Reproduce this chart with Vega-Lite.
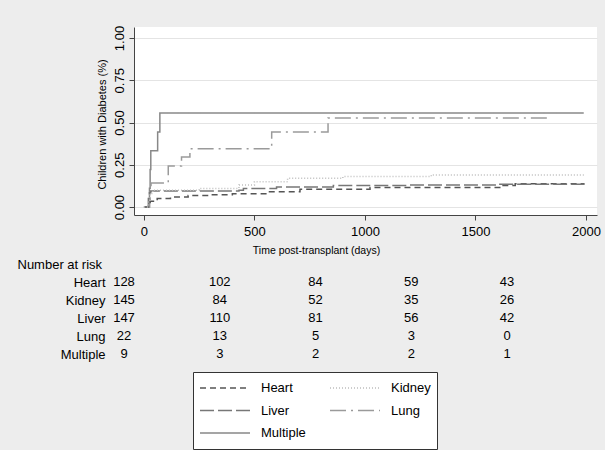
{
  "$schema": "https://vega.github.io/schema/vega-lite/v6.json",
  "background": "#ededed",
  "padding": {"left": 17, "top": 25, "right": 5, "bottom": 3},
  "bounds": "flush",
  "spacing": 58,
  "datasets": {
    "curves": [
      {"group": "Multiple", "t": 0, "p": 0},
      {"group": "Multiple", "t": 25, "p": 0.111},
      {"group": "Multiple", "t": 28, "p": 0.222},
      {"group": "Multiple", "t": 31, "p": 0.333},
      {"group": "Multiple", "t": 62, "p": 0.444},
      {"group": "Multiple", "t": 72, "p": 0.556},
      {"group": "Multiple", "t": 1990, "p": 0.556},
      {"group": "Lung", "t": 0, "p": 0},
      {"group": "Lung", "t": 25, "p": 0.045},
      {"group": "Lung", "t": 28, "p": 0.091},
      {"group": "Lung", "t": 32, "p": 0.142},
      {"group": "Lung", "t": 110, "p": 0.243},
      {"group": "Lung", "t": 170, "p": 0.296},
      {"group": "Lung", "t": 208, "p": 0.345},
      {"group": "Lung", "t": 578, "p": 0.444},
      {"group": "Lung", "t": 833, "p": 0.527},
      {"group": "Lung", "t": 1823, "p": 0.527},
      {"group": "Heart", "t": 0, "p": 0},
      {"group": "Heart", "t": 20, "p": 0.02},
      {"group": "Heart", "t": 28, "p": 0.034},
      {"group": "Heart", "t": 60, "p": 0.05},
      {"group": "Heart", "t": 120, "p": 0.059},
      {"group": "Heart", "t": 200, "p": 0.069},
      {"group": "Heart", "t": 300, "p": 0.073},
      {"group": "Heart", "t": 400, "p": 0.079},
      {"group": "Heart", "t": 560, "p": 0.09},
      {"group": "Heart", "t": 706, "p": 0.105},
      {"group": "Heart", "t": 1023, "p": 0.115},
      {"group": "Heart", "t": 1610, "p": 0.128},
      {"group": "Heart", "t": 1680, "p": 0.138},
      {"group": "Heart", "t": 1990, "p": 0.142},
      {"group": "Liver", "t": 0, "p": 0},
      {"group": "Liver", "t": 20, "p": 0.05},
      {"group": "Liver", "t": 25, "p": 0.085},
      {"group": "Liver", "t": 30, "p": 0.095},
      {"group": "Liver", "t": 430, "p": 0.1},
      {"group": "Liver", "t": 450, "p": 0.11},
      {"group": "Liver", "t": 600, "p": 0.118},
      {"group": "Liver", "t": 857, "p": 0.128},
      {"group": "Liver", "t": 1200, "p": 0.13},
      {"group": "Liver", "t": 1600, "p": 0.135},
      {"group": "Liver", "t": 1990, "p": 0.14},
      {"group": "Kidney", "t": 0, "p": 0},
      {"group": "Kidney", "t": 20, "p": 0.04},
      {"group": "Kidney", "t": 28, "p": 0.08},
      {"group": "Kidney", "t": 40, "p": 0.1},
      {"group": "Kidney", "t": 250, "p": 0.11},
      {"group": "Kidney", "t": 430, "p": 0.13},
      {"group": "Kidney", "t": 500, "p": 0.15},
      {"group": "Kidney", "t": 650, "p": 0.17},
      {"group": "Kidney", "t": 900, "p": 0.18},
      {"group": "Kidney", "t": 1300, "p": 0.19},
      {"group": "Kidney", "t": 1990, "p": 0.19}
    ],
    "risk": [
      {"group": "Heart", "time": 0, "n": 128},
      {"group": "Heart", "time": 500, "n": 102},
      {"group": "Heart", "time": 1000, "n": 84},
      {"group": "Heart", "time": 1500, "n": 59},
      {"group": "Heart", "time": 2000, "n": 43},
      {"group": "Kidney", "time": 0, "n": 145},
      {"group": "Kidney", "time": 500, "n": 84},
      {"group": "Kidney", "time": 1000, "n": 52},
      {"group": "Kidney", "time": 1500, "n": 35},
      {"group": "Kidney", "time": 2000, "n": 26},
      {"group": "Liver", "time": 0, "n": 147},
      {"group": "Liver", "time": 500, "n": 110},
      {"group": "Liver", "time": 1000, "n": 81},
      {"group": "Liver", "time": 1500, "n": 56},
      {"group": "Liver", "time": 2000, "n": 42},
      {"group": "Lung", "time": 0, "n": 22},
      {"group": "Lung", "time": 500, "n": 13},
      {"group": "Lung", "time": 1000, "n": 5},
      {"group": "Lung", "time": 1500, "n": 3},
      {"group": "Lung", "time": 2000, "n": 0},
      {"group": "Multiple", "time": 0, "n": 9},
      {"group": "Multiple", "time": 500, "n": 3},
      {"group": "Multiple", "time": 1000, "n": 2},
      {"group": "Multiple", "time": 1500, "n": 2},
      {"group": "Multiple", "time": 2000, "n": 1}
    ]
  },
  "vconcat": [
    {
      "width": 463,
      "height": 188,
      "view": {"fill": "white", "stroke": null},
      "data": {"name": "curves"},
      "mark": {"type": "line", "interpolate": "step-after", "strokeWidth": 1.5},
      "encoding": {
        "x": {
          "field": "t", "type": "quantitative",
          "scale": {"domain": [-45, 2050], "nice": false, "zero": false},
          "axis": {
            "values": [0, 500, 1000, 1500, 2000],
            "format": "d",
            "grid": false,
            "title": "Time post-transplant (days)",
            "titleFontSize": 10.5,
            "titleFontWeight": "normal",
            "titleX": 182,
            "titleY": 35,
            "titleBaseline": "middle",
            "labelFontSize": 13,
            "labelPadding": 5,
            "tickSize": 5,
            "domainColor": "#444",
            "tickColor": "#444",
            "labelColor": "black",
            "titleColor": "black"
          }
        },
        "y": {
          "field": "p", "type": "quantitative",
          "scale": {"domain": [-0.047, 1.065], "nice": false, "zero": false},
          "axis": {
            "values": [0, 0.25, 0.5, 0.75, 1],
            "format": ".2f",
            "grid": true,
            "gridColor": "#e4e4e4",
            "title": "Children with Diabetes (%)",
            "titleFontSize": 11,
            "titleFontWeight": "normal",
            "titleX": -32,
            "titleY": 97,
            "titleBaseline": "middle",
            "labelAngle": 270,
            "labelAlign": "center",
            "labelBaseline": "bottom",
            "labelFontSize": 13,
            "labelPadding": 3,
            "tickSize": 5,
            "domainColor": "#444",
            "tickColor": "#444",
            "labelColor": "black",
            "titleColor": "black"
          }
        },
        "color": {
          "field": "group", "type": "nominal",
          "scale": {
            "domain": ["Heart", "Liver", "Multiple", "Kidney", "Lung"],
            "range": ["#555555", "#777777", "#888888", "#bdbdbd", "#9a9a9a"]
          },
          "legend": {"title": null, "orient": "none", "legendX": 59, "legendY": 345}
        },
        "strokeDash": {
          "field": "group", "type": "nominal",
          "scale": {
            "domain": ["Heart", "Liver", "Multiple", "Kidney", "Lung"],
            "range": [[6, 4], [14, 4], [1, 0], [1, 2], [16, 5, 2, 5]]
          },
          "legend": {"title": null, "orient": "none", "legendX": 59, "legendY": 345}
        }
      }
    },
    {
      "width": 463,
      "height": 90,
      "data": {"name": "risk"},
      "mark": {"type": "text", "fontSize": 13, "color": "black"},
      "encoding": {
        "x": {
          "field": "time", "type": "quantitative",
          "scale": {"domain": [0, 2000], "range": [-10, 373]},
          "axis": null
        },
        "y": {
          "field": "group", "type": "nominal",
          "scale": {"type": "point", "domain": ["Heart", "Kidney", "Liver", "Lung", "Multiple"], "padding": 0.5},
          "axis": {
            "title": "Number at risk",
            "domain": false,
            "ticks": false,
            "tickSize": 0,
            "grid": false,
            "labelPadding": 29,
            "labelAlign": "right",
            "labelFontSize": 13,
            "labelColor": "black",
            "titleAngle": 0,
            "titleAlign": "left",
            "titleX": -117,
            "titleY": -9,
            "titleBaseline": "middle",
            "titleFontSize": 13,
            "titleFontWeight": "normal",
            "titleColor": "black"
          }
        },
        "text": {"field": "n", "type": "quantitative"}
      }
    }
  ],
  "config": {
    "font": "Liberation Sans",
    "view": {"stroke": null},
    "legend": {
      "columns": 2,
      "symbolType": "stroke",
      "symbolSize": 2500,
      "symbolStrokeWidth": 1.5,
      "labelFontSize": 13,
      "labelColor": "black",
      "labelOffset": 10,
      "columnPadding": 23,
      "rowPadding": 2.5,
      "clipHeight": 20,
      "padding": 6,
      "strokeColor": "#333333",
      "fillColor": "white"
    }
  }
}
